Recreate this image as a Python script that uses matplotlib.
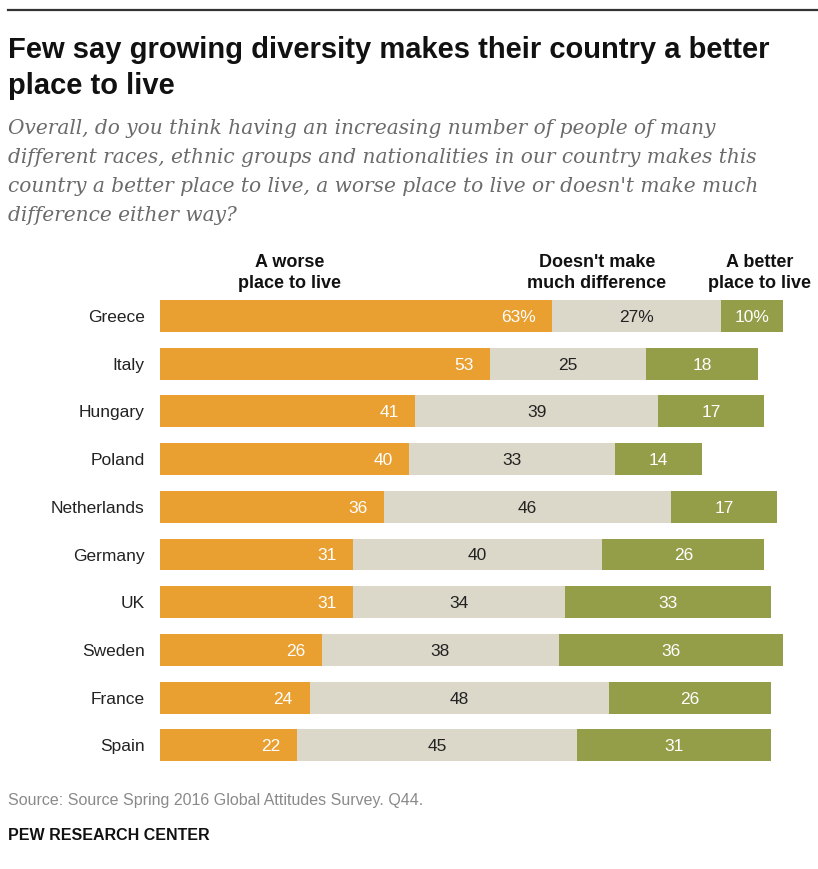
import matplotlib
matplotlib.use("Agg")
import matplotlib.pyplot as plt
from matplotlib.lines import Line2D

# survey data (percent)
countries = ["Greece", "Italy", "Hungary", "Poland", "Netherlands",
             "Germany", "UK", "Sweden", "France", "Spain"]
worse = [63, 53, 41, 40, 36, 31, 31, 26, 24, 22]
no_diff = [27, 25, 39, 33, 46, 40, 34, 38, 48, 45]
better = [10, 18, 17, 14, 17, 26, 33, 36, 26, 31]

c_worse = "#E9A030"
c_same = "#DBD8CA"
c_better = "#949D48"

sans = ["Liberation Sans", "DejaVu Sans"]

W, H = 818, 869
fig = plt.figure(figsize=(W / 100, H / 100), dpi=100)

def fx(px):
    return px / W

def fy(py):
    return 1 - py / H

# top rule
fig.add_artist(Line2D([fx(8), 1], [fy(10), fy(10)], color="#333333", lw=1.6))

fig.text(fx(8), fy(68), "Few say growing diversity makes their country a better\nplace to live",
         ha="left", va="center", fontsize=21, fontweight="bold", family=sans,
         linespacing=1.4, color="#111111")

fig.text(fx(8), fy(172),
         "Overall, do you think having an increasing number of people of many\n"
         "different races, ethnic groups and nationalities in our country makes this\n"
         "country a better place to live, a worse place to live or doesn't make much\n"
         "difference either way?",
         ha="left", va="center", fontsize=14.5, style="italic", family=["DejaVu Serif"],
         linespacing=1.68, color="#6b6b6b")

# chart area
row0, step = 316, 47.7
ax = fig.add_axes([fx(160), fy(row0 + 9.5 * step), fx(623), (10 * step) / H])
y = list(range(len(countries)))
bh = 0.67
left3 = [a + b for a, b in zip(worse, no_diff)]
ax.barh(y, worse, height=bh, color=c_worse)
ax.barh(y, no_diff, left=worse, height=bh, color=c_same)
ax.barh(y, better, left=left3, height=bh, color=c_better)
ax.set_xlim(0, 100)
ax.set_ylim(len(countries) - 0.5, -0.5)
ax.set_yticks(y)
ax.set_yticklabels(countries, family=sans, fontsize=12.5, color="#222222")
ax.tick_params(axis="y", length=0, pad=11)
ax.set_xticks([])
for s in ax.spines.values():
    s.set_visible(False)

for i in y:
    sfx = "%" if i == 0 else ""
    ax.annotate(f"{worse[i]}{sfx}", (worse[i], i), xytext=(-12, 0), textcoords="offset points",
                ha="right", va="center_baseline", color="white", fontsize=12.5, family=sans)
    ax.text(worse[i] + no_diff[i] / 2, i, f"{no_diff[i]}{sfx}", ha="center", va="center_baseline",
            color="#222222", fontsize=12.5, family=sans)
    ax.text(left3[i] + better[i] / 2, i, f"{better[i]}{sfx}", ha="center", va="center_baseline",
            color="white", fontsize=12.5, family=sans)

# column headers
hdr = dict(ha="center", va="center", fontsize=13, fontweight="bold", family=sans,
           color="#111111", linespacing=1.35)
fig.text(fx(290), fy(273), "A worse\nplace to live", **hdr)
fig.text(fx(597), fy(273), "Doesn't make\nmuch difference", **hdr)
fig.text(fx(760), fy(273), "A better\nplace to live", **hdr)

fig.text(fx(8), fy(801), "Source: Source Spring 2016 Global Attitudes Survey. Q44.",
         ha="left", va="center", fontsize=11.5, family=sans, color="#8a8a8a")
fig.text(fx(8), fy(836), "PEW RESEARCH CENTER", ha="left", va="center",
         fontsize=11.5, fontweight="bold", family=sans, color="#111111")

fig.savefig("out.png", dpi=100)
